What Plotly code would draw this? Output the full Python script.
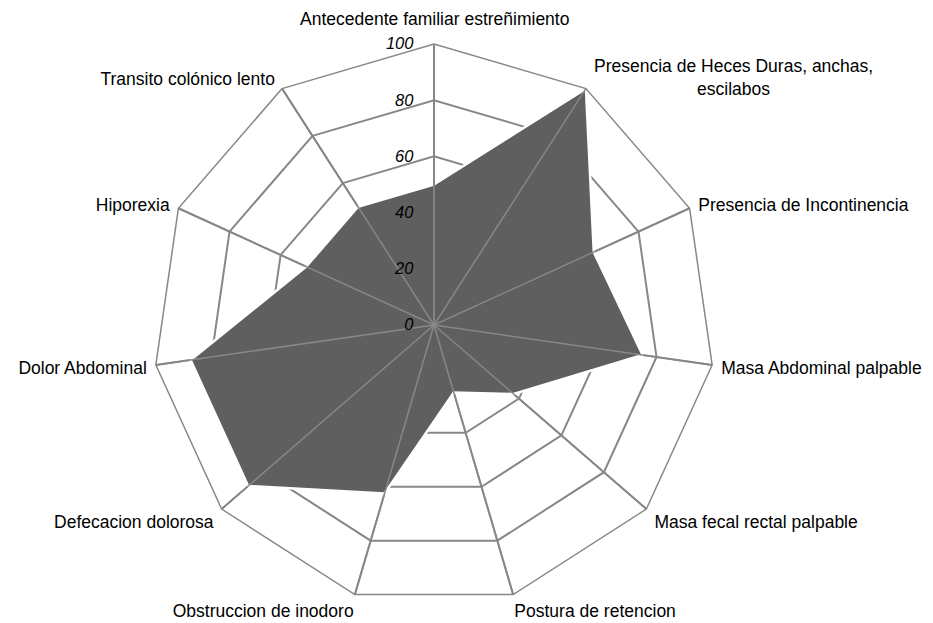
import math
import plotly.graph_objects as go

NB = "\u00a0"
categories = [
    "Antecedente familiar estreñimiento",
    "Presencia de Heces Duras, anchas, escilabos",
    "Presencia de Incontinencia",
    "Masa Abdominal palpable",
    "Masa fecal rectal palpable",
    "Postura de retencion",
    "Obstruccion de inodoro",
    "Defecacion dolorosa",
    "Dolor Abdominal",
    "Hiporexia",
    "Transito colónico lento",
]
values = [50, 100, 62.5, 75, 37.5, 25, 62.5, 87.5, 87.5, 50, 50]
radial_ticks = [0, 20, 40, 60, 80, 100]

# labels drawn by the angular axis (first two are drawn as annotations below)
axis_labels = [
    "",
    "",
    NB + "Presencia de Incontinencia",
    NB + "Masa Abdominal palpable",
    NB + "Masa fecal rectal palpable",
    "Postura de retencion",
    "Obstruccion de inodoro",
    "Defecacion dolorosa" + NB,
    "Dolor Abdominal" + NB,
    "Hiporexia" + NB,
    "Transito colónico lento" + NB,
]

GRID = "#878787"
FONT = "Liberation Sans, Arial, sans-serif"
FS = 17.5

# ---- layout geometry (page pixels) ----
W, H = 933, 623
PAGE_OFF = 8          # default body margin of the html page
CX, CY, R = 434, 325, 281
cxf, cyf = CX - PAGE_OFF, CY - PAGE_OFF
dom_x = [(cxf - R) / W, (cxf + R) / W]
dom_y = [(H - (cyf + R)) / H, (H - (cyf - R)) / H]

fig = go.Figure()

fig.add_trace(go.Scatterpolar(
    r=values + values[:1],
    theta=categories + categories[:1],
    mode="lines",
    fill="toself",
    fillcolor="#5f5f5f",
    line=dict(color="white", width=2.5),
    hoverinfo="skip",
    showlegend=False,
))

# spokes drawn over the fill (as in the reference)
spoke_r, spoke_t = [], []
for c in categories:
    spoke_r += [0, radial_ticks[-1], None]
    spoke_t += [c, c, None]
fig.add_trace(go.Scatterpolar(
    r=spoke_r, theta=spoke_t, mode="lines",
    line=dict(color=GRID, width=1.5),
    connectgaps=False, hoverinfo="skip", showlegend=False,
))

# annotations for the two top labels (Excel-like placement)
step = 2 * math.pi / len(categories)
top_y = cyf - R
v1x = cxf + R * math.sin(step)
v1y = cyf - R * math.cos(step)
annotations = [
    dict(text=categories[0], xref="paper", yref="paper",
         x=cxf / W, y=1 - (top_y - 25) / H, xanchor="center", yanchor="middle",
         showarrow=False, font=dict(family=FONT, size=FS, color="black")),
    dict(text="Presencia de Heces Duras, anchas,<br>escilabos", xref="paper", yref="paper",
         x=(v1x + 6) / W, y=1 - (v1y - 11) / H, xanchor="left", yanchor="middle",
         align="center", showarrow=False,
         font=dict(family=FONT, size=FS, color="black")),
]

fig.update_layout(
    width=W, height=H,
    margin=dict(l=0, r=0, t=0, b=0),
    paper_bgcolor="white",
    plot_bgcolor="white",
    font=dict(family=FONT, size=FS, color="black"),
    showlegend=False,
    annotations=annotations,
    polar=dict(
        domain=dict(x=dom_x, y=dom_y),
        bgcolor="white",
        gridshape="linear",
        angularaxis=dict(
            direction="clockwise",
            rotation=90,
            showline=True,
            linecolor=GRID,
            linewidth=1.5,
            gridcolor=GRID,
            gridwidth=1.5,
            ticks="",
            tickmode="array",
            tickvals=categories,
            ticktext=axis_labels,
            tickfont=dict(family=FONT, size=FS, color="black"),
            categoryorder="array",
            categoryarray=categories,
        ),
        radialaxis=dict(
            range=[0, 100],
            tickvals=radial_ticks,
            ticktext=[str(v) for v in radial_ticks],
            angle=90,
            tickangle=90,
            side="counterclockwise",
            showline=True,
            linecolor=GRID,
            linewidth=1.5,
            gridcolor=GRID,
            gridwidth=1.5,
            ticks="outside",
            ticklen=14,
            tickcolor="rgba(0,0,0,0)",
            tickfont=dict(family=FONT, size=16.5, color="black", style="italic"),
        ),
    ),
)

fig.write_html("out.html")
